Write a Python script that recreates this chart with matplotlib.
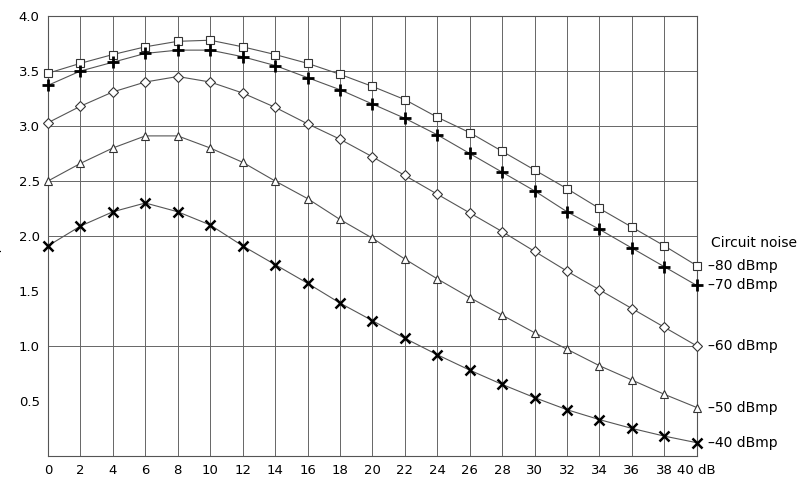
import matplotlib
matplotlib.use("Agg")
import matplotlib.pyplot as plt

x = list(range(0, 41, 2))
s80 = [3.48,3.57,3.65,3.72,3.77,3.78,3.72,3.65,3.57,3.47,3.36,3.24,3.08,2.94,2.77,2.60,2.43,2.25,2.08,1.91,1.73]
s70 = [3.37,3.50,3.58,3.66,3.69,3.69,3.63,3.55,3.44,3.33,3.20,3.07,2.92,2.75,2.58,2.41,2.22,2.06,1.89,1.72,1.55]
s60 = [3.03,3.18,3.31,3.40,3.45,3.40,3.30,3.17,3.02,2.88,2.72,2.55,2.38,2.21,2.04,1.86,1.68,1.51,1.34,1.17,1.00]
s50 = [2.50,2.66,2.80,2.91,2.91,2.80,2.67,2.50,2.34,2.15,1.98,1.79,1.61,1.44,1.28,1.12,0.97,0.82,0.69,0.56,0.44]
s40 = [1.91,2.09,2.22,2.30,2.22,2.10,1.91,1.74,1.57,1.39,1.23,1.07,0.92,0.78,0.65,0.53,0.42,0.33,0.25,0.18,0.12]
labels = ["\u201380 dBmp", "\u201370 dBmp", "\u201360 dBmp", "\u201350 dBmp", "\u201340 dBmp"]
xticklabels = [str(v) for v in x[:-1]] + ["40 dB"]
hgrid = [1.0, 2.0, 2.5, 3.0, 3.5, 4.0]

fig = plt.figure(figsize=(8, 5.01), dpi=100)
ax = fig.add_axes([0.06, 0.09, 0.811, 0.878])
series = [(s80, 's', 6, 'none'), (s70, 'P', 7, 'black'), (s60, 'D', 5, 'none'), (s50, '^', 6, 'none'), (s40, 'x', 6, 'black')]
for (ys, m, ms, fc), lab in zip(series, labels):
    ax.plot(x, ys, color='#555555', lw=0.8, zorder=3)
    if m == 'P':
        ax.plot(x, ys, linestyle='none', marker='+', ms=9, mew=2, color='black', zorder=4, clip_on=False)
    elif m == 'x':
        ax.plot(x, ys, linestyle='none', marker='x', ms=7, mew=1.8, color='black', zorder=4, clip_on=False)
    else:
        ax.plot(x, ys, linestyle='none', marker=m, ms=ms, mfc='white', mec='#333333', mew=0.8, zorder=4, clip_on=False)
    ax.text(40.7, ys[-1], lab, va='center', ha='left', fontsize=10)
ax.text(40.9, 1.94, "Circuit noise", va='center', ha='left', fontsize=10)

ax.set_xlim(0, 40)
ax.set_ylim(0, 4.0)
ax.set_xticks(x)
ax.set_xticklabels(xticklabels, fontsize=9.5)
ax.set_yticks([0.5,1.0,1.5,2.0,2.5,3.0,3.5,4.0])
ax.set_yticklabels(["0.5","1.0","1.5","2.0","2.5","3.0","3.5","4.0"], fontsize=9.5)
ax.tick_params(length=0, pad=6)
for v in x:
    ax.axvline(v, color='#666666', lw=0.7, zorder=1)
for v in hgrid:
    ax.axhline(v, color='#666666', lw=0.7, zorder=1)
for s in ax.spines.values():
    s.set_color('#555555'); s.set_linewidth(0.8)
ax.set_ylabel("Mean opinion score", fontsize=9.5, labelpad=12)
fig.savefig("out.png")
